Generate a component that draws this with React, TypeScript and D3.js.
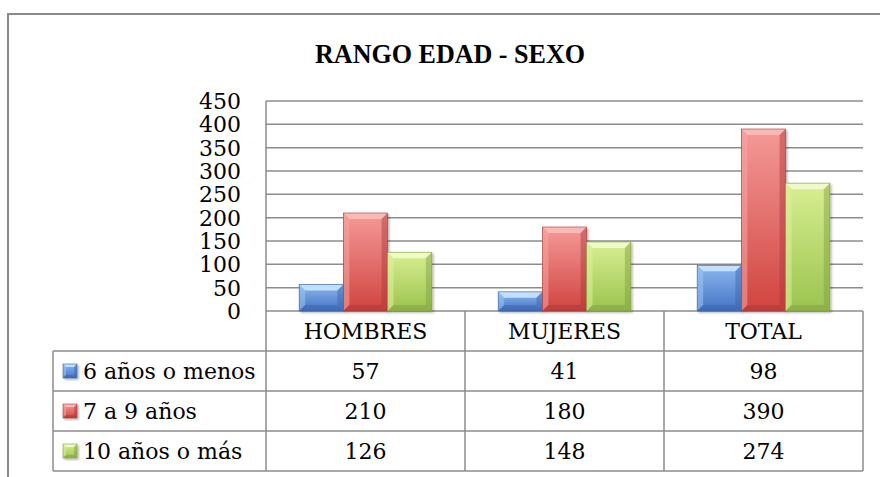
import * as d3 from 'd3'

const W = 880, H = 477

const CATEGORIES = ['HOMBRES', 'MUJERES', 'TOTAL']
const SERIES = ['6 años o menos', '7 a 9 años', '10 años o más']
const SIX_OR_LESS = [57, 41, 98]
const SEVEN_TO_NINE = [210, 180, 390]
const TEN_OR_MORE = [126, 148, 274]
const Y_TICKS = [0, 50, 100, 150, 200, 250, 300, 350, 400, 450]
const VALUES = [SIX_OR_LESS, SEVEN_TO_NINE, TEN_OR_MORE]

// bevel colours per series: [light top, body top, body bottom, bevel, dark edge]
const PAL = [
  { id: 'b', top: '#8cb8ee', bot: '#4473c4', bevel: '#c2e0fb', side: '#9cc6f4', dark: '#3a63a8' },
  { id: 'r', top: '#f59a98', bot: '#d0443f', bevel: '#fbb9b6', side: '#f5a6a3', dark: '#a8383a' },
  { id: 'g', top: '#d8ef92', bot: '#9bc34e', bevel: '#f0fac8', side: '#dcf09c', dark: '#7f9e40' },
]

const GRID = '#8c8c8c'
const FONT = '"DejaVu Serif", serif'

const PLOT_L = 266, PLOT_R = 863, PLOT_T = 101, PLOT_B = 311
const ROW_H = 40, KEY_L = 53

function Bevel({ x, y, w, h, p, b = 6 }: any) {
  const bb = Math.min(b, h / 2, w / 2)
  return (
    <g filter="url(#shadow)">
      <rect x={x} y={y} width={w} height={h} fill={`url(#grad-${p.id})`} />
      <polygon points={`${x},${y} ${x + w},${y} ${x + w - bb},${y + bb} ${x + bb},${y + bb}`} fill={p.bevel} />
      <polygon points={`${x},${y} ${x + bb},${y + bb} ${x + bb},${y + h - bb} ${x},${y + h}`} fill={p.side} opacity={0.55} />
      <polygon points={`${x + w},${y} ${x + w - bb},${y + bb} ${x + w - bb},${y + h - bb} ${x + w},${y + h}`} fill={p.dark} opacity={0.45} />
      <polygon points={`${x},${y + h} ${x + bb},${y + h - bb} ${x + w - bb},${y + h - bb} ${x + w},${y + h}`} fill={p.dark} opacity={0.5} />
      <rect x={x} y={y} width={w} height={h} fill="none" stroke={p.dark} strokeWidth={0.6} />
    </g>
  )
}

export default function App() {
  const y = d3.scaleLinear().domain([0, 450]).range([PLOT_B, PLOT_T])
  const x0 = d3.scaleBand().domain(CATEGORIES).range([PLOT_L, PLOT_R]).padding(0)
  const x1 = d3.scaleBand().domain(SERIES).range([0, x0.bandwidth()]).paddingInner(0).paddingOuter(0.75)
  const rowY = (i: number) => PLOT_B + ROW_H * (i + 1)
  const tableB = rowY(SERIES.length)

  return (
    <svg width={W} height={H} style={{ position: 'absolute', left: 0, top: 0, background: '#fff' }}>
      <defs>
        {PAL.map(p => (
          <linearGradient key={p.id} id={`grad-${p.id}`} x1="0" y1="0" x2="0" y2="1">
            <stop offset="0" stopColor={p.top} />
            <stop offset="1" stopColor={p.bot} />
          </linearGradient>
        ))}
        <filter id="shadow" x="-20%" y="-20%" width="140%" height="140%">
          <feDropShadow dx="1.5" dy="1.5" stdDeviation="1" floodColor="#000" floodOpacity="0.3" />
        </filter>
      </defs>

      {/* chart area border, runs off the right and bottom */}
      <rect x={8} y={14} width={W} height={H} fill="none" stroke="#8a8a8a" strokeWidth={2} />

      <text x={450} y={63} textAnchor="middle" fontFamily='"Liberation Serif", serif' fontWeight="bold"
        fontSize={28} textLength={270} lengthAdjust="spacingAndGlyphs">RANGO EDAD - SEXO</text>

      {/* gridlines + y labels */}
      {Y_TICKS.map(t => (
        <g key={t}>
          <line x1={PLOT_L} x2={PLOT_R} y1={y(t)} y2={y(t)} stroke={GRID} strokeWidth={1.5} />
          <text x={241} y={y(t)} dy="0.36em" textAnchor="end" fontFamily={FONT} fontSize={22}>{t}</text>
        </g>
      ))}
      <line x1={PLOT_L} x2={PLOT_L} y1={PLOT_T} y2={tableB} stroke={GRID} strokeWidth={1.5} />

      {/* bars */}
      {CATEGORIES.map((c, ci) => (
        <g key={c} transform={`translate(${x0(c)},0)`}>
          {SERIES.map((s, si) => (
            <Bevel key={s} x={x1(s)} y={y(VALUES[si][ci])} w={x1.bandwidth()}
              h={y(0) - y(VALUES[si][ci])} p={PAL[si]} />
          ))}
        </g>
      ))}

      {/* data table */}
      {CATEGORIES.map(c => (
        <g key={c}>
          <line x1={x0(c)! + x0.bandwidth()} x2={x0(c)! + x0.bandwidth()} y1={PLOT_B} y2={tableB} stroke={GRID} strokeWidth={1.5} />
          <text x={x0(c)! + x0.bandwidth() / 2} y={PLOT_B + ROW_H / 2} dy="0.36em" textAnchor="middle"
            fontFamily={FONT} fontSize={22}>{c}</text>
        </g>
      ))}
      <line x1={KEY_L} x2={KEY_L} y1={rowY(0)} y2={tableB} stroke={GRID} strokeWidth={1.5} />
      {SERIES.map((s, si) => (
        <g key={s}>
          <line x1={KEY_L} x2={PLOT_R} y1={rowY(si)} y2={rowY(si)} stroke={GRID} strokeWidth={1.5} />
          <Bevel x={63} y={rowY(si) + ROW_H / 2 - 7} w={14} h={14} p={PAL[si]} b={3} />
          <text x={83} y={rowY(si) + ROW_H / 2} dy="0.36em" fontFamily={FONT} fontSize={22}>{s}</text>
          {CATEGORIES.map((c, ci) => (
            <text key={c} x={x0(c)! + x0.bandwidth() / 2} y={rowY(si) + ROW_H / 2} dy="0.36em"
              textAnchor="middle" fontFamily={FONT} fontSize={22}>{VALUES[si][ci]}</text>
          ))}
        </g>
      ))}
      <line x1={KEY_L} x2={PLOT_R} y1={tableB} y2={tableB} stroke={GRID} strokeWidth={1.5} />
    </svg>
  )
}
